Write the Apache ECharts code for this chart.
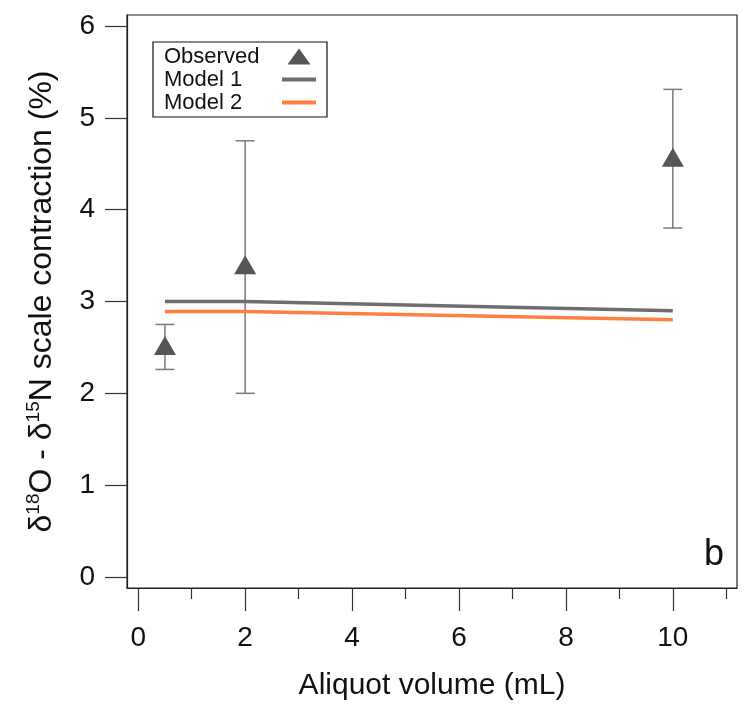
<!DOCTYPE html>
<html>
<head>
<meta charset="utf-8">
<script src="https://cdn.jsdelivr.net/npm/echarts@6/dist/echarts.min.js"></script>
<style>
html,body{margin:0;padding:0;background:#fff;}
#chart{width:748px;height:706px;}
</style>
</head>
<body>
<div id="chart"></div>
<script>
// ---- data ----
var obsX = [0.5, 2, 10];
var obsY = [2.52, 3.4, 4.57];
var obsLow = [2.26, 2.0, 3.8];
var obsHigh = [2.75, 4.75, 5.31];
var model1X = [0.5, 2, 10];
var model1Y = [3.0, 3.0, 2.9];
var model2X = [0.5, 2, 10];
var model2Y = [2.89, 2.89, 2.8];
var xMajorTicks = [0, 2, 4, 6, 8, 10];
var xMinorTicks = [1, 3, 5, 7, 9, 11];
var yTicks = [0, 1, 2, 3, 4, 5, 6];

var FONT = 'Helvetica, "Liberation Sans", Arial, sans-serif';
function zip(a, b) { return a.map(function (v, i) { return [v, b[i]]; }); }
var errData = obsX.map(function (x, i) { return [x, obsLow[i], obsHigh[i]]; });

var chart = echarts.init(document.getElementById('chart'), null, {renderer: 'canvas'});
var option = {
  animation: false,
  backgroundColor: '#fff',
  textStyle: {fontFamily: FONT},
  title: {
    text: 'b', right: 24, top: 537, padding: 0,
    textStyle: {fontFamily: FONT, fontSize: 36, fontWeight: 'normal', color: '#111'}
  },
  grid: {left: 127, right: 11, top: 15, bottom: 118, show: true, borderColor: '#222', borderWidth: 1.2, backgroundColor: 'transparent'},
  legend: {
    orient: 'vertical', left: 153, top: 42, align: 'right',
    padding: [3, 11, 3, 11], itemGap: 0, itemWidth: 34, itemHeight: 16,
    borderColor: '#111', borderWidth: 1.2, backgroundColor: '#fff',
    formatter: '{t|{name}}',
    textStyle: {
      fontFamily: FONT, fontSize: 22, color: '#111', lineHeight: 23,
      rich: {t: {width: 113, align: 'left', fontSize: 22, lineHeight: 23, fontFamily: FONT, color: '#111'}}
    },
    data: [
      {name: 'Observed', icon: 'path://M0,16L11.5,0L23,16Z'},
      {name: 'Model 1', icon: 'path://M0,0L34,0L34,4L0,4Z'},
      {name: 'Model 2', icon: 'path://M0,0L34,0L34,4L0,4Z'}
    ]
  },
  xAxis: [{
    type: 'value', min: -0.21, max: 11.2,
    axisLine: {show: true, onZero: false, lineStyle: {color: '#222', width: 1.2}},
    axisTick: {show: true, customValues: xMajorTicks, length: 23, lineStyle: {color: '#333', width: 1.2}},
    axisLabel: {customValues: xMajorTicks, margin: 36, fontSize: 28, color: '#111', fontFamily: FONT},
    splitLine: {show: false},
    name: 'Aliquot volume (mL)', nameLocation: 'middle', nameGap: 83,
    nameTextStyle: {fontSize: 30, color: '#111', fontFamily: FONT}
  }, {
    type: 'value', min: -0.21, max: 11.2, position: 'bottom',
    axisLine: {show: false, onZero: false},
    axisTick: {show: true, customValues: xMinorTicks, length: 11, lineStyle: {color: '#333', width: 1.2}},
    axisLabel: {show: false},
    splitLine: {show: false}
  }],
  yAxis: {
    type: 'value', min: -0.12, max: 6.12,
    axisLine: {show: true, onZero: false, lineStyle: {color: '#222', width: 1.2}},
    axisTick: {show: true, customValues: yTicks, length: 22, lineStyle: {color: '#333', width: 1.2}},
    axisLabel: {customValues: yTicks, margin: 32, fontSize: 28, color: '#111', fontFamily: FONT},
    splitLine: {show: false},
    name: '{n|δ}{s|18}{n|O - δ}{s|15}{n|N scale contraction (%)}',
    nameLocation: 'middle', nameGap: 67,
    nameTextStyle: {
      color: '#111', fontFamily: FONT,
      rich: {
        n: {fontSize: 32, lineHeight: 36, fontFamily: FONT, color: '#111'},
        s: {fontSize: 19, lineHeight: 19, verticalAlign: 'top', fontFamily: FONT, color: '#111'}
      }
    }
  },
  series: [
    {
      name: 'Error', type: 'custom', xAxisIndex: 0, yAxisIndex: 0, z: 1,
      renderItem: function (params, api) {
        var x = api.value(0);
        var lo = api.coord([x, api.value(1)]);
        var hi = api.coord([x, api.value(2)]);
        var hw = 9.5;
        var st = {stroke: '#7a7a7a', lineWidth: 1.5};
        return {type: 'group', children: [
          {type: 'line', shape: {x1: lo[0], y1: lo[1], x2: hi[0], y2: hi[1]}, style: st},
          {type: 'line', shape: {x1: lo[0] - hw, y1: lo[1], x2: lo[0] + hw, y2: lo[1]}, style: st},
          {type: 'line', shape: {x1: hi[0] - hw, y1: hi[1], x2: hi[0] + hw, y2: hi[1]}, style: st}
        ]};
      },
      data: errData, silent: true
    },
    {
      name: 'Model 1', type: 'line', symbol: 'none', z: 2,
      lineStyle: {color: '#6e6e6e', width: 3.5}, itemStyle: {color: '#6e6e6e'},
      data: zip(model1X, model1Y)
    },
    {
      name: 'Model 2', type: 'line', symbol: 'none', z: 2,
      lineStyle: {color: '#ff7f3f', width: 3.5}, itemStyle: {color: '#ff7f3f'},
      data: zip(model2X, model2Y)
    },
    {
      name: 'Observed', type: 'scatter', symbol: 'triangle', symbolSize: [22, 19], z: 3,
      itemStyle: {color: '#555555', opacity: 1},
      data: zip(obsX, obsY)
    }
  ]
};
chart.setOption(option);
</script>
</body>
</html>
